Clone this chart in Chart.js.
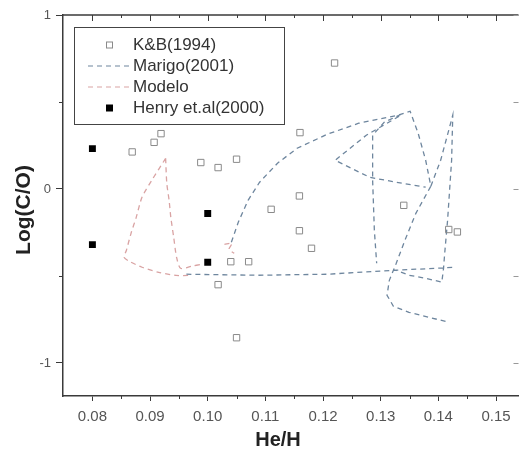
<!DOCTYPE html>
<html>
<head>
<meta charset="utf-8">
<title>Log(C/O) vs He/H</title>
<script src="https://cdn.jsdelivr.net/npm/chart.js"></script>
<style>
    html, body { margin: 0; padding: 0; background: #fff; overflow: hidden; }
    .chart-box { width: 524px; height: 454px; position: relative; }
</style>
</head>
<body>
<div class="chart-box">
    <canvas id="coChart"></canvas>
</div>

<script>
    // axis ranges and ticks
    const xRange = [0.0749, 0.1539];
    const yRange = [-1.19, 1];
    const xTicks = [0.08, 0.09, 0.10, 0.11, 0.12, 0.13, 0.14, 0.15];
    const xMinorTicks = [0.085, 0.095, 0.105, 0.115, 0.125, 0.135, 0.145];
    const yTicks = [-1, 0, 1];
    const yMinorTicks = [-0.5, 0.5];

    // K&B(1994)
    const kbHeH = [0.0869, 0.0907, 0.0919, 0.0988, 0.1018, 0.1050, 0.1220, 0.1160, 0.1159, 0.1110,
                   0.1340, 0.1159, 0.1180, 0.1418, 0.1433, 0.1040, 0.1071, 0.1018, 0.1050];
    const kbLogCO = [0.213, 0.268, 0.318, 0.152, 0.123, 0.171, 0.724, 0.324, -0.040, -0.117,
                     -0.094, -0.240, -0.341, -0.233, -0.247, -0.418, -0.418, -0.550, -0.855];

    // Henry et.al(2000)
    const henryHeH = [0.08, 0.10, 0.08, 0.10];
    const henryLogCO = [0.232, -0.141, -0.320, -0.421];

    // Marigo(2001) branches, [He/H, Log(C/O)]
    const marigoA = [[0.1041, -0.306], [0.1053, -0.191], [0.1070, -0.065], [0.1090, 0.039], [0.1121, 0.148],
                     [0.1155, 0.234], [0.1207, 0.314], [0.1262, 0.378], [0.1330, 0.424], [0.1351, 0.447],
                     [0.1365, 0.320], [0.1378, 0.165], [0.1387, 0.016], [0.1361, -0.140], [0.1342, -0.295],
                     [0.1327, -0.427], [0.1315, -0.525], [0.1311, -0.611], [0.1322, -0.674], [0.1349, -0.709],
                     [0.1383, -0.737], [0.1418, -0.766]];
    const marigoB = [[0.1332, 0.418], [0.1275, 0.309], [0.1221, 0.165], [0.1281, 0.067], [0.1327, 0.039],
                     [0.1378, 0.010]];
    const marigoC = [[0.1335, 0.429], [0.1306, 0.383], [0.1286, 0.309], [0.1286, 0.050], [0.1289, -0.237],
                     [0.1293, -0.427]];
    const marigoD = [[0.1387, 0.016], [0.1404, 0.165], [0.1425, 0.424], [0.1423, 0.165], [0.1416, -0.180],
                     [0.1411, -0.370], [0.1409, -0.456], [0.1406, -0.536], [0.1378, -0.513], [0.1349, -0.496],
                     [0.1327, -0.467]];
    const marigoE = [[0.0963, -0.490], [0.1087, -0.496], [0.1207, -0.490], [0.1327, -0.467], [0.1430, -0.450]];

    // Modelo branches
    const modeloA = [[0.0927, 0.176], [0.0903, 0.050], [0.0886, -0.048], [0.0876, -0.163], [0.0867, -0.255],
                     [0.0859, -0.352], [0.0855, -0.393], [0.0864, -0.416], [0.0886, -0.450], [0.0915, -0.479],
                     [0.0945, -0.497], [0.0967, -0.497]];
    const modeloB = [[0.0927, 0.176], [0.0929, 0.033], [0.0933, -0.065], [0.0936, -0.163], [0.0941, -0.278],
                     [0.0946, -0.393], [0.0953, -0.456], [0.0972, -0.444], [0.0989, -0.433]];
    const modeloC = [[0.1029, -0.318], [0.1042, -0.312], [0.1037, -0.347], [0.1046, -0.370]];

    const marigoColor = '#6e869e';
    const modeloColor = '#d9a3a3';
    const axisColor = '#3a3a3a';
    const fontFamily = '"Liberation Sans", Arial, sans-serif';

    function toPoints(xs, ys) {
        return xs.map((x, i) => ({ x: x, y: ys[i] }));
    }

    // joins branches into one dataset, broken by empty points
    function joinBranches(branches) {
        let pts = [];
        branches.forEach((b, i) => {
            if (i > 0) pts.push({ x: null, y: null });
            b.forEach(p => pts.push({ x: p[0], y: p[1] }));
        });
        return pts;
    }

    // frame, minor ticks, legend and axis titles
    const framePlugin = {
        id: 'frame',
        afterDraw(chart) {
            const ctx = chart.ctx;
            const area = chart.chartArea;
            const xs = chart.scales.x;
            const ys = chart.scales.y;

            ctx.save();
            ctx.strokeStyle = axisColor;
            ctx.lineWidth = 1.5;
            ctx.beginPath();
            ctx.moveTo(area.left, area.top);
            ctx.lineTo(area.right, area.top);
            ctx.stroke();

            ctx.lineWidth = 1;
            ctx.beginPath();
            xTicks.forEach(v => {
                const px = Math.round(xs.getPixelForValue(v)) + 0.5;
                ctx.moveTo(px, area.top);
                ctx.lineTo(px, area.top + 6);
            });
            xMinorTicks.forEach(v => {
                const px = Math.round(xs.getPixelForValue(v)) + 0.5;
                ctx.moveTo(px, area.top);
                ctx.lineTo(px, area.top + 3);
                ctx.moveTo(px, area.bottom);
                ctx.lineTo(px, area.bottom + 3);
            });
            yMinorTicks.forEach(v => {
                const py = Math.round(ys.getPixelForValue(v)) + 0.5;
                ctx.moveTo(area.left - 4, py);
                ctx.lineTo(area.left, py);
            });
            ctx.stroke();

            // right axis ticks pointing inward
            ctx.strokeStyle = '#999';
            ctx.beginPath();
            yTicks.concat(yMinorTicks).forEach(v => {
                const py = Math.round(ys.getPixelForValue(v)) + 0.5;
                ctx.moveTo(area.right - 5, py);
                ctx.lineTo(area.right, py);
            });
            ctx.stroke();

            // legend
            const lx = 74.5, ly = 27.5, lw = 210, lh = 97;
            ctx.strokeStyle = '#444';
            ctx.lineWidth = 1;
            ctx.strokeRect(lx, ly, lw, lh);

            const rows = [45, 66, 87, 108];
            const labels = chart.data.datasets.map(d => d.label);
            ctx.font = '17px ' + fontFamily;
            ctx.fillStyle = '#333';
            ctx.textBaseline = 'middle';
            ctx.textAlign = 'left';

            // K&B open square
            ctx.strokeStyle = '#8a8a8a';
            ctx.strokeRect(106.5, rows[0] - 3, 6, 6);
            ctx.fillText(labels[1], 133, rows[0]);

            ctx.lineWidth = 1.2;
            ctx.setLineDash([5, 4]);
            ctx.strokeStyle = marigoColor;
            ctx.beginPath();
            ctx.moveTo(88, rows[1]);
            ctx.lineTo(131, rows[1]);
            ctx.stroke();
            ctx.fillText(labels[2], 133, rows[1]);

            ctx.strokeStyle = modeloColor;
            ctx.beginPath();
            ctx.moveTo(88, rows[2]);
            ctx.lineTo(131, rows[2]);
            ctx.stroke();
            ctx.fillText(labels[3], 133, rows[2]);
            ctx.setLineDash([]);

            ctx.fillStyle = '#000';
            ctx.fillRect(106, rows[3] - 3.5, 7, 7);
            ctx.fillStyle = '#333';
            ctx.fillText(labels[0], 133, rows[3]);

            // axis titles
            ctx.fillStyle = '#222';
            ctx.font = 'bold 20px ' + fontFamily;
            ctx.textAlign = 'center';
            ctx.fillText('He/H', 278, 440);

            ctx.translate(24, 210);
            ctx.rotate(-Math.PI / 2);
            ctx.font = 'bold 21px ' + fontFamily;
            ctx.fillText('Log(C/O)', 0, 0);
            ctx.restore();
        }
    };

    const ctx = document.getElementById('coChart').getContext('2d');
    const chart = new Chart(ctx, {
        type: 'scatter',
        data: {
            datasets: [
                {
                    label: 'Henry et.al(2000)',
                    data: toPoints(henryHeH, henryLogCO),
                    pointStyle: 'rect',
                    pointRadius: 4.9,
                    backgroundColor: '#000',
                    borderColor: '#000',
                    borderWidth: 0
                },
                {
                    label: 'K&B(1994)',
                    data: toPoints(kbHeH, kbLogCO),
                    pointStyle: 'rect',
                    pointRadius: 4.5,
                    backgroundColor: 'rgba(255,255,255,0)',
                    borderColor: '#8a8a8a',
                    borderWidth: 1
                },
                {
                    label: 'Marigo(2001)',
                    data: joinBranches([marigoA, marigoB, marigoC, marigoD, marigoE]),
                    showLine: true,
                    pointRadius: 0,
                    borderColor: marigoColor,
                    borderWidth: 1.3,
                    borderDash: [5, 4],
                    tension: 0
                },
                {
                    label: 'Modelo',
                    data: joinBranches([modeloA, modeloB, modeloC]),
                    showLine: true,
                    pointRadius: 0,
                    borderColor: modeloColor,
                    borderWidth: 1.3,
                    borderDash: [5, 4],
                    tension: 0.25
                }
            ]
        },
        options: {
            responsive: true,
            maintainAspectRatio: false,
            animation: false,
            layout: { padding: { left: 0, top: 15, right: 0, bottom: 0 } },
            plugins: {
                legend: { display: false },
                tooltip: { enabled: false }
            },
            scales: {
                x: {
                    type: 'linear',
                    min: xRange[0],
                    max: xRange[1],
                    afterBuildTicks: scale => { scale.ticks = xTicks.map(v => ({ value: v })); },
                    afterFit: scale => { scale.height = 58; },
                    grid: { drawOnChartArea: false, drawTicks: true, tickLength: 5, color: axisColor, lineWidth: 1 },
                    border: { display: true, color: axisColor, width: 1.5 },
                    ticks: {
                        padding: 7,
                        color: '#555',
                        font: { family: fontFamily, size: 15 },
                        maxRotation: 0,
                        callback: v => v.toFixed(2)
                    }
                },
                y: {
                    type: 'linear',
                    min: yRange[0],
                    max: yRange[1],
                    afterBuildTicks: scale => { scale.ticks = yTicks.map(v => ({ value: v })); },
                    afterFit: scale => { scale.width = 63; },
                    grid: { drawOnChartArea: false, drawTicks: true, tickLength: 7, color: axisColor, lineWidth: 1 },
                    border: { display: true, color: axisColor, width: 1.5 },
                    ticks: {
                        padding: 5,
                        color: '#555',
                        font: { family: fontFamily, size: 13 },
                        callback: v => String(v)
                    }
                }
            }
        },
        plugins: [framePlugin]
    });
</script>
</body>
</html>
